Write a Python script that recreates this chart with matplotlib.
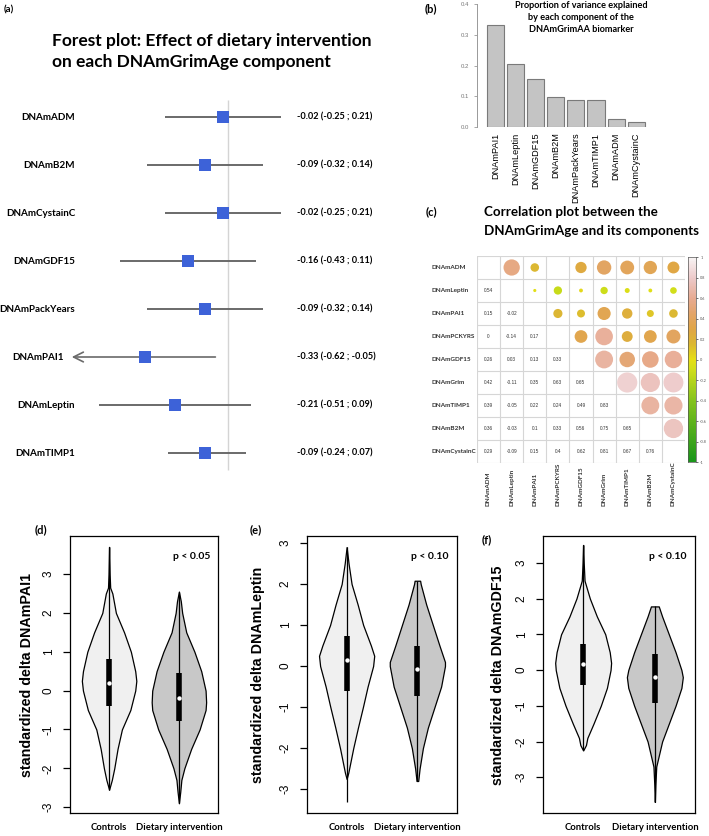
import numpy as np
import matplotlib
matplotlib.use("Agg")
import matplotlib.pyplot as plt
from matplotlib.colors import LinearSegmentedColormap
from matplotlib.patches import Circle

plt.rcParams['font.family'] = ['Lato', 'DejaVu Sans']

# ---------------- data ----------------
forest_names = ["DNAmADM", "DNAmB2M", "DNAmCystainC", "DNAmGDF15",
                "DNAmPackYears", "DNAmPAI1", "DNAmLeptin", "DNAmTIMP1"]
forest_est = [-0.02, -0.09, -0.02, -0.16, -0.09, -0.33, -0.21, -0.09]
forest_lo = [-0.25, -0.32, -0.25, -0.43, -0.32, -0.62, -0.51, -0.24]
forest_hi = [0.21, 0.14, 0.21, 0.11, 0.14, -0.05, 0.09, 0.07]

var_names = ["DNAmPAI1", "DNAmLeptin", "DNAmGDF15", "DNAmB2M",
             "DNAmPackYears", "DNAmTIMP1", "DNAmADM", "DNAmCystainC"]
var_prop = [0.331, 0.206, 0.155, 0.096, 0.089, 0.088, 0.025, 0.015]

corr_names = ["DNAmADM", "DNAmLeptin", "DNAmPAI1", "DNAmPCKYRS", "DNAmGDF15",
              "DNAmGrim", "DNAmTIMP1", "DNAmB2M", "DNAmCystainC"]
corr_lower = [
    [],
    [0.54],
    [0.15, -0.02],
    [0, -0.14, 0.17],
    [0.26, 0.03, 0.13, 0.33],
    [0.42, -0.11, 0.35, 0.63, 0.65],
    [0.39, -0.05, 0.22, 0.24, 0.49, 0.83],
    [0.36, -0.03, 0.1, 0.33, 0.56, 0.75, 0.65],
    [0.29, -0.09, 0.15, 0.4, 0.62, 0.81, 0.67, 0.76],
]
cbar_ticks = [1, 0.8, 0.6, 0.4, 0.2, 0, -0.2, -0.4, -0.6, -0.8, -1]

groups = ["Controls", "Dietary intervention"]
violin_ylabels = ["standardized delta DNAmPAI1", "standardized delta DNAmLeptin",
                  "standardized delta DNAmGDF15"]
violin_p = ["p < 0.05", "p < 0.10", "p < 0.10"]
violin_tags = ["(d)", "(e)", "(f)"]

# violin outlines: y levels and relative half-widths
d_ctrl_y = [3.7, 3.0, 2.65, 2.5, 2.0, 1.5, 1.0, 0.5, 0.25, 0.0, -0.5, -1.0, -1.5, -2.0, -2.3, -2.55]
d_ctrl_w = [0.0, 0.02, 0.04, 0.12, 0.25, 0.55, 0.8, 0.96, 1.0, 0.96, 0.78, 0.47, 0.31, 0.19, 0.1, 0.0]
d_diet_y = [2.55, 2.3, 2.0, 1.5, 1.0, 0.5, 0.0, -0.3, -0.5, -1.0, -1.5, -2.0, -2.3, -2.6, -2.9]
d_diet_w = [0.0, 0.07, 0.12, 0.27, 0.57, 0.82, 0.98, 1.0, 0.98, 0.76, 0.45, 0.2, 0.09, 0.05, 0.0]
e_ctrl_y = [2.9, 2.5, 2.0, 1.5, 1.0, 0.5, 0.25, 0.0, -0.5, -1.0, -1.5, -2.0, -2.4, -2.6, -2.75]
e_ctrl_w = [0.0, 0.07, 0.18, 0.4, 0.6, 0.88, 1.0, 0.96, 0.76, 0.59, 0.41, 0.24, 0.12, 0.06, 0.0]
e_diet_y = [2.08, 2.0, 1.5, 1.0, 0.5, 0.1, 0.0, -0.5, -1.0, -1.5, -2.0, -2.5, -2.8]
e_diet_w = [0.1, 0.12, 0.32, 0.56, 0.8, 1.0, 1.0, 0.86, 0.62, 0.38, 0.2, 0.08, 0.03]
f_ctrl_y = [3.5, 3.0, 2.5, 2.0, 1.5, 1.0, 0.5, 0.2, 0.0, -0.5, -1.0, -1.5, -1.9, -2.1, -2.25]
f_ctrl_w = [0.0, 0.02, 0.05, 0.24, 0.49, 0.79, 0.95, 1.0, 0.98, 0.85, 0.63, 0.37, 0.15, 0.1, 0.0]
f_diet_y = [1.78, 1.5, 1.0, 0.5, 0.0, -0.2, -0.5, -1.0, -1.5, -2.0, -2.5, -2.7, -3.2, -3.69]
f_diet_w = [0.14, 0.26, 0.5, 0.74, 0.95, 1.0, 0.95, 0.74, 0.5, 0.26, 0.11, 0.05, 0.02, 0.0]

# box stats: (q1, median, q3, min, max)
d_ctrl_box = (-0.4, 0.2, 0.81, -2.55, 3.7)
d_diet_box = (-0.79, -0.19, 0.45, -2.9, 2.55)
e_ctrl_box = (-0.6, 0.16, 0.73, -3.3, 2.9)
e_diet_box = (-0.73, -0.06, 0.48, -2.8, 2.08)
f_ctrl_box = (-0.42, 0.18, 0.72, -2.25, 3.5)
f_diet_box = (-0.91, -0.19, 0.44, -3.69, 1.78)

# ---------------- layout helpers ----------------
W, H = 709, 836
fig = plt.figure(figsize=(W / 100, H / 100), dpi=100)


def rect(x0, y0, x1, y1):
    return [x0 / W, 1 - y1 / H, (x1 - x0) / W, (y1 - y0) / H]


def T(x, y, s, **kw):
    return fig.text(x / W, 1 - y / H, s, **kw)


# ---------------- (a) forest plot ----------------
T(4, 10, "(a)", fontsize=7, fontweight='bold', va='center')
T(52, 41, "Forest plot: Effect of dietary intervention", fontsize=12.5,
  fontweight='bold', va='center')
T(52, 62, "on each DNAmGrimAge component", fontsize=12.5, fontweight='bold', va='center')

axf = fig.add_axes(rect(0, 90, 380, 480))
axf.set_xlim((0 - 228) / 252, (380 - 228) / 252)
axf.set_ylim(7.5625, -0.5625)
axf.axis('off')
axf.vlines(0, -0.354, 7.354, color='#d4d4d4', lw=1.0, zorder=1)
for i, (nm, e, lo, hi) in enumerate(zip(forest_names, forest_est, forest_lo, forest_hi)):
    if nm == "DNAmPAI1":
        axf.annotate('', xy=(lo, i), xytext=(hi, i),
                     arrowprops=dict(arrowstyle='->,head_length=0.7,head_width=0.35',
                                     color='#6a6a6a', lw=1.2, shrinkA=0, shrinkB=0))
        lx = (64 - 228) / 252
    else:
        axf.hlines(i, lo, hi, color='#6a6a6a', lw=1.4, zorder=2)
        lx = (75 - 228) / 252
    axf.scatter([e], [i], marker='s', s=70, color='#3d62d8', zorder=3, linewidths=0)
    axf.text(lx, i, nm, ha='right', va='center', fontsize=7.1, fontweight='bold')
    axf.text((297 - 228) / 252, i, f"{e:.2f} ({lo:.2f} ; {hi:.2f})", ha='left',
             va='center', fontsize=6.6, fontweight='bold')

# ---------------- (b) bar chart ----------------
T(425, 9, "(b)", fontsize=8, fontweight='bold', va='center')
T(581, 6, "Proportion of variance explained", fontsize=6.6, fontweight='bold',
  ha='center', va='center')
T(581, 17, "by each component of the", fontsize=6.6, fontweight='bold',
  ha='center', va='center')
T(581, 29, "DNAmGrimAA biomarker", fontsize=6.6, fontweight='bold',
  ha='center', va='center')

axb = fig.add_axes(rect(477, 4, 655, 127))
xb = np.arange(len(var_names))
axb.bar(xb, var_prop, width=0.85, color='#c4c4c4', edgecolor='#7a7a7a', linewidth=0.8)
axb.set_xlim(-0.92, 7.935)
axb.set_ylim(0, 0.4)
for s in ['top', 'right', 'bottom']:
    axb.spines[s].set_visible(False)
axb.spines['left'].set_color('#999999')
axb.spines['left'].set_linewidth(0.7)
axb.set_yticks([0.0, 0.1, 0.2, 0.3, 0.4])
axb.set_yticklabels(["0.0", "0.1", "0.2", "0.3", "0.4"], fontsize=4.3, color='#777777',
                    family='Liberation Sans')
axb.tick_params(axis='y', length=2.5, width=0.6, color='#999999', pad=3)
axb.set_xticks(xb)
axb.set_xticklabels(var_names, rotation=90, fontsize=6.6, family='Liberation Sans',
                    va='top', ha='center')
axb.tick_params(axis='x', length=0, pad=4)

# ---------------- (c) correlation plot ----------------
T(426, 212, "(c)", fontsize=8, fontweight='bold', va='center')
T(484, 212, "Correlation plot between the", fontsize=9.6, fontweight='bold', va='center')
T(484, 231, "DNAmGrimAge and its components", fontsize=9.6, fontweight='bold', va='center')

cmap = LinearSegmentedColormap.from_list("corr", [
    (0.0, '#1a961a'), (0.3, '#86c41e'), (0.45, '#d0de1a'), (0.5, '#e6df16'),
    (0.575, '#dcb832'), (0.65, '#e0a646'), (0.725, '#e3a56a'), (0.8, '#e8ab92'),
    (0.9, '#edcaca'), (1.0, '#f8f4f4')])

axc = fig.add_axes(rect(477, 256, 685, 463))
n = len(corr_names)
axc.set_xlim(0, n)
axc.set_ylim(n, 0)
axc.axis('off')
for k in range(n + 1):
    axc.plot([k, k], [0, n], color='#d6d6d6', lw=0.8, zorder=1)
    axc.plot([0, n], [k, k], color='#d6d6d6', lw=0.8, zorder=1)
for i in range(n):
    for j in range(i):
        r = corr_lower[i][j]
        txt = f"{r:g}"
        axc.text(j + 0.5, i + 0.5, txt, ha='center', va='center', fontsize=3.4,
                 color='#333333', family='Liberation Sans')
        # symmetric upper triangle circle
        rad = 0.48 * np.sqrt(abs(r))
        if rad > 0:
            axc.add_patch(Circle((i + 0.5, j + 0.5), rad, facecolor=cmap((r + 1) / 2),
                                 edgecolor='none', zorder=2))
for i, nm in enumerate(corr_names):
    T(431, 256 + 23 * i + 11.5, nm, fontsize=4.6, fontweight='bold', va='center',
      ha='left', color='#333333')
    T(477 + 23.1 * i + 11.5, 506, nm, fontsize=4.6, fontweight='bold', rotation=90,
      ha='center', va='bottom', color='#333333')

axcb = fig.add_axes(rect(688, 257, 696, 462))
grad = np.linspace(1, -1, 200).reshape(-1, 1)
axcb.imshow(grad, aspect='auto', cmap=cmap, vmin=-1, vmax=1, extent=[0, 1, -1, 1])
axcb.set_xticks([])
axcb.yaxis.tick_right()
axcb.set_yticks(cbar_ticks)
axcb.set_yticklabels([f"{t:g}" for t in cbar_ticks], fontsize=2.8, color='#555555')
axcb.tick_params(axis='y', length=1.5, width=0.4, pad=1.5)
for s in axcb.spines.values():
    s.set_linewidth(0.5)
    s.set_color('#555555')

# ---------------- (d)(e)(f) violins ----------------
violins = [
    ((d_ctrl_y, d_ctrl_w, d_ctrl_box), (d_diet_y, d_diet_w, d_diet_box)),
    ((e_ctrl_y, e_ctrl_w, e_ctrl_box), (e_diet_y, e_diet_w, e_diet_box)),
    ((f_ctrl_y, f_ctrl_w, f_ctrl_box), (f_diet_y, f_diet_w, f_diet_box)),
]
boxes_px = [(70, 218), (307, 457), (543, 695)]
ylims = [(-3.15, 3.98), (-3.58, 3.17), (-4.0, 3.75)]
tag_pos = [(35, 530), (250, 530), (482, 540)]
ylab_x = [27, 258, 498]
fills = ['#f0f0f0', '#c8c8c8']

for k in range(3):
    x0, x1 = boxes_px[k]
    ax = fig.add_axes(rect(x0, 536, x1, 813))
    ax.set_xlim(0.44, 2.56)
    ax.set_ylim(*ylims[k])
    for g, (ys, ws, box) in enumerate(violins[k]):
        pos = g + 1
        ys = np.array(ys)
        hw = np.array(ws) * 0.39
        ax.fill_betweenx(ys, pos - hw, pos + hw, facecolor=fills[g], edgecolor='black',
                         linewidth=0.9, zorder=2)
        q1, med, q3, lo, hi = box
        ax.vlines(pos, lo, hi, color='black', lw=0.9, zorder=3)
        ax.vlines(pos, q1, q3, color='black', lw=4.0, zorder=4)
        ax.scatter([pos], [med], s=10, color='white', zorder=5, linewidths=0)
    ax.set_yticks([-3, -2, -1, 0, 1, 2, 3])
    ax.set_yticklabels(["-3", "-2", "-1", "0", "1", "2", "3"], rotation=90, va='center',
                       fontsize=8.5, family='Liberation Sans')
    ax.tick_params(axis='y', length=5, width=0.9, pad=6)
    ax.set_xticks([1, 2])
    ax.set_xticklabels(groups, fontsize=6.8, fontweight='bold')
    ax.tick_params(axis='x', length=0, pad=7)
    for s in ax.spines.values():
        s.set_linewidth(0.9)
    ax.text(0.82, 0.925, violin_p[k], transform=ax.transAxes, ha='center', va='center',
            fontsize=7.5, fontweight='bold')
    T(ylab_x[k], 675, violin_ylabels[k], rotation=90, ha='center', va='center',
      fontsize=10.3, fontweight='bold', family='Liberation Sans')
    T(tag_pos[k][0], tag_pos[k][1], violin_tags[k], fontsize=8, fontweight='bold',
      va='center')

fig.savefig("out.png", dpi=100)
